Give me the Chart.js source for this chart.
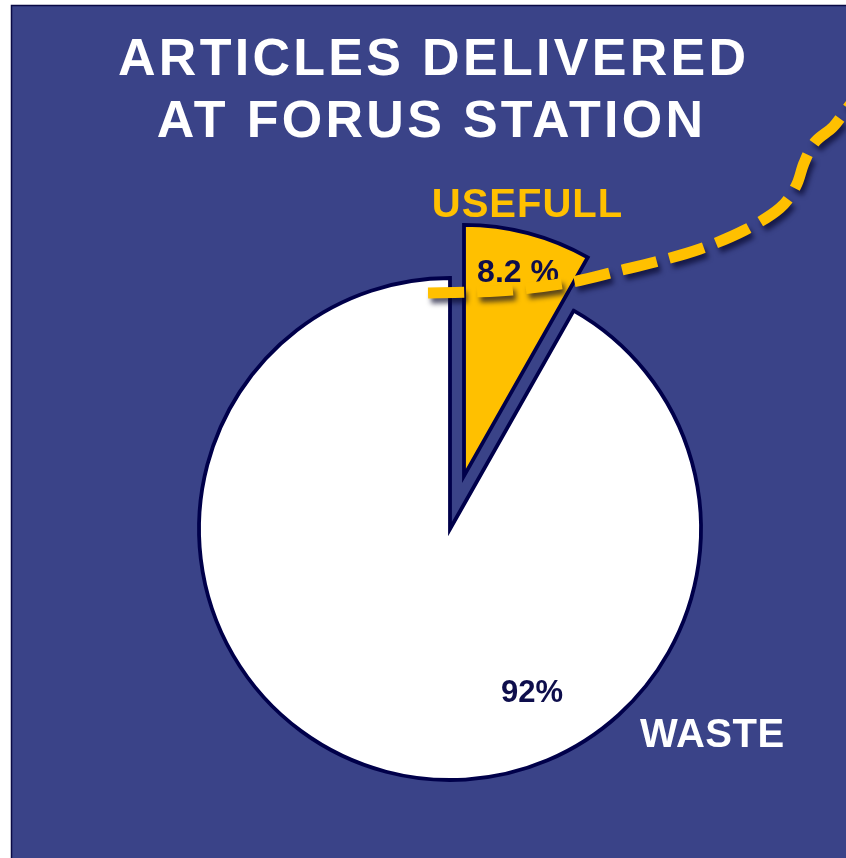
<!DOCTYPE html>
<html>
<head>
<meta charset="utf-8">
<script src="https://cdn.jsdelivr.net/npm/chart.js@4/dist/chart.umd.min.js"></script>
<style>
  html, body { margin: 0; padding: 0; background: #ffffff; }
  #wrap { position: absolute; left: 0; top: 0; width: 846px; height: 858px; }
</style>
</head>
<body>
<div id="wrap"><canvas id="c" width="846" height="858"></canvas></div>
<script>
// ---- data ----
const titleLines = ["ARTICLES DELIVERED", "AT FORUS STATION"];
const categories = ["USEFULL", "WASTE"];
const shares = [8.2, 91.8];
const valueLabels = ["8.2 %", "92%"];
const sliceColors = ["#FFC000", "#FFFFFF"];
const explodePx = [55, 0];

// decorative dashed route (page decoration, not data)
const routePoints = [
  [428, 293], [470, 292], [512, 290], [572, 282], [618, 271], [655, 262],
  [700, 249], [745, 230], [780, 208], [796, 186], [804, 163], [815, 142],
  [833, 127], [846, 110], [856, 97]
];

const BG = "#3A4388";
const NAVY = "#0E0E4C";

const bgPlugin = {
  id: "bg",
  beforeDraw(chart) {
    const ctx = chart.ctx;
    ctx.save();
    ctx.fillStyle = "#ffffff";
    ctx.fillRect(0, 0, chart.width, chart.height);
    ctx.fillStyle = BG;
    ctx.fillRect(11, 5, chart.width - 11, chart.height - 5);
    ctx.strokeStyle = "#0A0A45";
    ctx.lineWidth = 1.5;
    ctx.strokeRect(11.5, 5.5, chart.width + 5, chart.height + 5);
    ctx.restore();
  }
};

const explodePlugin = {
  id: "explode",
  afterUpdate(chart) {
    const meta = chart.getDatasetMeta(0);
    meta.data.forEach((arc, i) => {
      const d = explodePx[i] || 0;
      if (!d) return;
      const mid = (arc.startAngle + arc.endAngle) / 2;
      arc.x += Math.cos(mid) * d;
      arc.y += Math.sin(mid) * d;
    });
  }
};

function drawSpaced(ctx, text, x, y, spacing) {
  ctx.letterSpacing = spacing + "px";
  const w = ctx.measureText(text).width - spacing;
  ctx.textAlign = "left";
  ctx.fillText(text, x - w / 2, y);
  ctx.letterSpacing = "0px";
}

const textPlugin = {
  id: "texts",
  afterDatasetsDraw(chart) {
    const ctx = chart.ctx;
    const meta = chart.getDatasetMeta(0);
    const useful = meta.data[0];
    const waste = meta.data[1];
    ctx.save();
    ctx.textBaseline = "alphabetic";
    // title
    ctx.fillStyle = "#FFFFFF";
    ctx.font = "bold 52px 'Liberation Sans', Arial, sans-serif";
    drawSpaced(ctx, titleLines[0], 432, 75, 3.3);
    drawSpaced(ctx, titleLines[1], 430, 137, 3.3);
    // category labels
    ctx.font = "bold 40px 'Liberation Sans', Arial, sans-serif";
    ctx.fillStyle = sliceColors[0];
    drawSpaced(ctx, categories[0], 527, 217, 1);
    ctx.fillStyle = "#FFFFFF";
    drawSpaced(ctx, categories[1], 712, 747, 0.5);
    // value labels
    ctx.fillStyle = NAVY;
    ctx.font = "bold 32px 'Liberation Sans', Arial, sans-serif";
    drawSpaced(ctx, valueLabels[0], useful.x + 54, useful.y - 194, 0);
    ctx.font = "bold 31px 'Liberation Sans', Arial, sans-serif";
    drawSpaced(ctx, valueLabels[1], waste.x + 82, waste.y + 173, 0);
    ctx.restore();

    // dashed route on top
    ctx.save();
    ctx.strokeStyle = "#FFC000";
    ctx.lineWidth = 11;
    ctx.lineCap = "butt";
    ctx.setLineDash([36, 13]);
    ctx.shadowColor = "rgba(5,5,40,0.65)";
    ctx.shadowOffsetX = 3;
    ctx.shadowOffsetY = 5;
    ctx.shadowBlur = 5;
    ctx.beginPath();
    const p = routePoints;
    ctx.moveTo(p[0][0], p[0][1]);
    for (let i = 0; i < p.length - 1; i++) {
      const p0 = p[Math.max(i - 1, 0)], p1 = p[i], p2 = p[i + 1], p3 = p[Math.min(i + 2, p.length - 1)];
      const c1x = p1[0] + (p2[0] - p0[0]) / 6, c1y = p1[1] + (p2[1] - p0[1]) / 6;
      const c2x = p2[0] - (p3[0] - p1[0]) / 6, c2y = p2[1] - (p3[1] - p1[1]) / 6;
      ctx.bezierCurveTo(c1x, c1y, c2x, c2y, p2[0], p2[1]);
    }
    ctx.stroke();
    ctx.restore();
  }
};

new Chart(document.getElementById("c"), {
  type: "pie",
  data: {
    labels: categories,
    datasets: [{
      data: shares,
      backgroundColor: sliceColors,
      borderColor: "#00004A",
      borderWidth: 3.8,
      borderJoinStyle: "miter",
      radius: 251
    }]
  },
  options: {
    responsive: false,
    animation: false,
    layout: { padding: { left: 190, right: 136, top: 269, bottom: 69 } },
    plugins: {
      legend: { display: false },
      title: { display: false },
      tooltip: { enabled: false }
    }
  },
  plugins: [bgPlugin, explodePlugin, textPlugin]
});
</script>
</body>
</html>
